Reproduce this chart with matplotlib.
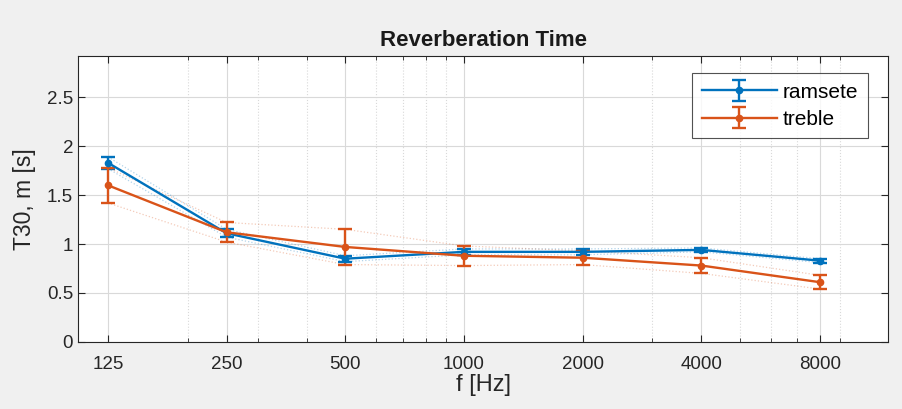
import numpy as np
import matplotlib.pyplot as plt
from matplotlib.ticker import FixedLocator, LogLocator, NullFormatter

# --- data ---
FREQS = [125, 250, 500, 1000, 2000, 4000, 8000]
FREQ_LABELS = ["125", "250", "500", "1000", "2000", "4000", "8000"]

ramsete = [1.83, 1.11, 0.85, 0.92, 0.92, 0.94, 0.83]
ramsete_err = [0.06, 0.04, 0.03, 0.03, 0.03, 0.02, 0.02]

treble = [1.60, 1.12, 0.97, 0.88, 0.86, 0.78, 0.61]
treble_err = [0.18, 0.10, 0.18, 0.10, 0.07, 0.08, 0.07]

C_BLUE = "#0072BD"
C_ORANGE = "#D95319"

plt.rcParams.update({
    "font.family": "Liberation Sans",
    "font.size": 12,
})

fig = plt.figure(figsize=(9.02, 4.09), dpi=100, facecolor="#f0f0f0")
ax = fig.add_axes([0.0865, 0.164, 0.898, 0.699])
ax.set_facecolor("white")

for y, e, c, name in [(ramsete, ramsete_err, C_BLUE, "ramsete"),
                      (treble, treble_err, C_ORANGE, "treble")]:
    y = np.asarray(y)
    e = np.asarray(e)
    # faint dotted bounds (mean +/- spread)
    ax.plot(FREQS, y + e, color=c, linestyle=":", linewidth=0.9, alpha=0.3)
    ax.plot(FREQS, y - e, color=c, linestyle=":", linewidth=0.9, alpha=0.3)
    ax.errorbar(FREQS, y, yerr=e, color=c, marker="o", markersize=4.5,
                linewidth=1.7, elinewidth=1.7, capsize=5, capthick=1.7,
                label=name)

ax.set_xscale("log")
ax.set_xlim(105, 11900)
ax.set_ylim(0, 2.92)
ax.xaxis.set_major_locator(FixedLocator(FREQS))
ax.set_xticklabels(FREQ_LABELS)
ax.xaxis.set_minor_locator(LogLocator(base=10, subs=np.arange(2, 10)))
ax.xaxis.set_minor_formatter(NullFormatter())
ax.set_yticks([0, 0.5, 1, 1.5, 2, 2.5])
ax.set_yticklabels(["0", "0.5", "1", "1.5", "2", "2.5"])

ax.grid(True, which="major", color="#d9d9d9", linewidth=0.8)
ax.grid(True, which="minor", axis="x", color="#d9d9d9", linestyle=":", linewidth=0.8)
ax.set_axisbelow(True)

ax.tick_params(which="both", direction="in", top=True, right=True,
               colors="#262626", labelsize=13.5)
ax.tick_params(which="major", length=5)
ax.tick_params(which="minor", length=3)
ax.tick_params(axis="x", which="major", pad=10)
for s in ax.spines.values():
    s.set_color("#262626")
    s.set_linewidth(0.8)

ax.set_title("Reverberation Time", fontweight="bold", fontsize=16, color="#1a1a1a", pad=7)
ax.set_xlabel("f [Hz]", fontsize=17, color="#262626", labelpad=1)
ax.set_ylabel("T30, m [s]", fontsize=16.5, color="#262626", labelpad=8)

leg = ax.legend(loc="upper right", bbox_to_anchor=(0.975, 0.94), borderaxespad=0,
                fancybox=False, edgecolor="#262626", fontsize=15, handlelength=3.6,
                borderpad=0.45, labelspacing=0.4, handletextpad=0.3)
leg.get_frame().set_linewidth(0.8)

fig.savefig("out.png", dpi=100, facecolor=fig.get_facecolor())
